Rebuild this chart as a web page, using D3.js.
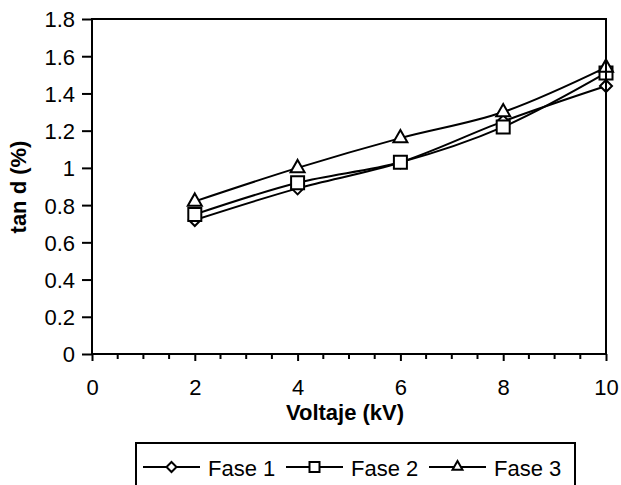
<!DOCTYPE html>
<html>
<head>
<meta charset="utf-8">
<script src="https://cdn.jsdelivr.net/npm/d3@7"></script>
<style>
html,body{margin:0;padding:0;background:#fff;}
svg{display:block;font-family:"Liberation Sans",Arial,sans-serif;}
</style>
</head>
<body>
<svg id="chart" width="621" height="485"></svg>
<script>
const voltages = [2, 4, 6, 8, 10];
const fase1 = [0.72, 0.89, 1.03, 1.25, 1.44];
const fase2 = [0.75, 0.92, 1.03, 1.22, 1.51];
const fase3 = [0.82, 1.00, 1.16, 1.30, 1.54];
const seriesNames = ["Fase 1", "Fase 2", "Fase 3"];
const seriesValues = [fase1, fase2, fase3];
const markerTypes = ["diamond", "square", "triangle"];
const xTicks = [0, 2, 4, 6, 8, 10];
const yTicks = [0, 0.2, 0.4, 0.6, 0.8, 1, 1.2, 1.4, 1.6, 1.8];
const xTitle = "Voltaje (kV)";
const yTitle = "tan d (%)";

const svg = d3.select("#chart");
const L = 92, R = 606, T = 19, B = 354;
const x = d3.scaleLinear().domain([0, 10]).range([L, R]);
const y = d3.scaleLinear().domain([0, 1.8]).range([B, T]);
const FS = 22;

// minor x ticks
const minor = d3.range(0, 10.01, 0.5).filter(v => v % 2 !== 0);
svg.append("g").selectAll("line").data(minor).join("line")
  .attr("x1", d => x(d)).attr("x2", d => x(d))
  .attr("y1", B).attr("y2", B + 5)
  .attr("stroke", "#000").attr("stroke-width", 2);

// x axis
const xAxis = d3.axisBottom(x).tickValues(xTicks).tickSize(7).tickPadding(20)
  .tickFormat(d3.format("d"));
const gx = svg.append("g").attr("transform", `translate(0,${B})`).call(xAxis);
gx.select(".domain").remove();
gx.selectAll(".tick line").attr("stroke", "#000").attr("stroke-width", 2);
gx.selectAll(".tick text").attr("font-size", FS).attr("fill", "#000")
  .attr("font-family", "Liberation Sans, Arial, sans-serif").attr("dy", null).attr("y", 41);

// y axis
const yAxis = d3.axisLeft(y).tickValues(yTicks).tickSize(10).tickPadding(8)
  .tickFormat(d => d3.format("")(+d.toFixed(1)));
const gy = svg.append("g").attr("transform", `translate(${L},0)`).call(yAxis);
gy.select(".domain").remove();
gy.selectAll(".tick line").attr("stroke", "#000").attr("stroke-width", 2);
gy.selectAll(".tick text").attr("font-size", FS).attr("fill", "#000")
  .attr("font-family", "Liberation Sans, Arial, sans-serif").attr("x", -17).attr("dy", "0.36em");

// series
const line = d3.line().x(d => x(d[0])).y(d => y(d[1])).curve(d3.curveCatmullRom.alpha(0));

function markerPath(type, s) {
  if (type === "diamond") return `M0,${-s}L${s},0L0,${s}L${-s},0Z`;
  if (type === "square") return `M${-s},${-s}H${s}V${s}H${-s}Z`;
  return `M0,${-s}L${s},${s * 0.75}H${-s}Z`;
}
const markerSize = {diamond: 6, square: 6.5, triangle: 7};

seriesValues.forEach((vals, i) => {
  const pts = voltages.map((v, j) => [v, vals[j]]);
  const g = svg.append("g");
  g.append("path").attr("d", line(pts)).attr("fill", "none")
    .attr("stroke", "#000").attr("stroke-width", 2);
  g.selectAll("path.m").data(pts).join("path").attr("class", "m")
    .attr("transform", d => `translate(${x(d[0])},${y(d[1]) + (markerTypes[i] === "triangle" ? -1 : 0)})`)
    .attr("d", markerPath(markerTypes[i], markerSize[markerTypes[i]]))
    .attr("fill", "#fff").attr("stroke", "#000").attr("stroke-width", 2);
});

// plot border
svg.append("rect").attr("x", L).attr("y", T).attr("width", R - L).attr("height", B - T)
  .attr("fill", "none").attr("stroke", "#000").attr("stroke-width", 2);

// titles
svg.append("text").attr("x", 345).attr("y", 420).attr("text-anchor", "middle")
  .attr("font-size", FS).attr("font-weight", "bold").text(xTitle);
svg.append("text").attr("transform", "translate(26,187) rotate(-90)").attr("text-anchor", "middle")
  .attr("font-size", FS).attr("font-weight", "bold").text(yTitle);

// legend
svg.append("rect").attr("x", 136).attr("y", 443).attr("width", 439).attr("height", 60)
  .attr("fill", "#fff").attr("stroke", "#000").attr("stroke-width", 2);
const ly = 467;
seriesNames.forEach((name, i) => {
  const x0 = 143 + i * 143;
  const g = svg.append("g");
  g.append("line").attr("x1", x0).attr("x2", x0 + 57).attr("y1", ly).attr("y2", ly)
    .attr("stroke", "#000").attr("stroke-width", 2);
  g.append("path").attr("transform", `translate(${x0 + 28.5},${ly + (markerTypes[i] === "triangle" ? -1 : 0)})`)
    .attr("d", markerPath(markerTypes[i], 5))
    .attr("fill", "#fff").attr("stroke", "#000").attr("stroke-width", 2);
  g.append("text").attr("x", x0 + 65).attr("y", ly + 6).attr("font-size", FS)
    .attr("dy", "0.15em").text(name);
});
</script>
</body>
</html>
